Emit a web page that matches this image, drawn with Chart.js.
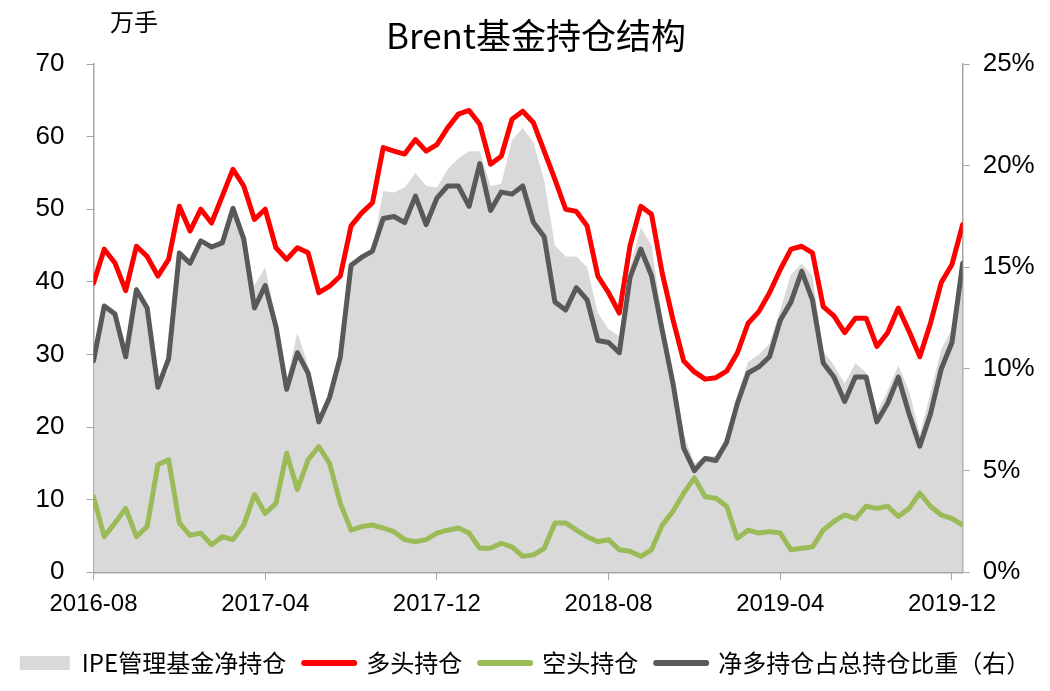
<!DOCTYPE html>
<html>
<head>
<meta charset="utf-8">
<script src="https://cdn.jsdelivr.net/npm/chart.js@4.4.1/dist/chart.umd.min.js"></script>
<style>
html,body{margin:0;padding:0;background:#fff;}
#wrap{width:1050px;height:691px;position:relative;}
</style>
</head>
<body>
<div id="wrap"><canvas id="c" width="1050" height="691"></canvas></div>
<script>
// ---- data (semi-monthly readings) ----
const dates = [
"2016-08-01","2016-08-16","2016-09-01","2016-09-16","2016-10-01","2016-10-16","2016-11-01","2016-11-16","2016-12-01","2016-12-16",
"2017-01-01","2017-01-16","2017-02-01","2017-02-16","2017-03-01","2017-03-16","2017-04-01","2017-04-16","2017-05-01","2017-05-16",
"2017-06-01","2017-06-16","2017-07-01","2017-07-16","2017-08-01","2017-08-16","2017-09-01","2017-09-16","2017-10-01","2017-10-16",
"2017-11-01","2017-11-16","2017-12-01","2017-12-16","2018-01-01","2018-01-16","2018-02-01","2018-02-16","2018-03-01","2018-03-16",
"2018-04-01","2018-04-16","2018-05-01","2018-05-16","2018-06-01","2018-06-16","2018-07-01","2018-07-16","2018-08-01","2018-08-16",
"2018-09-01","2018-09-16","2018-10-01","2018-10-16","2018-11-01","2018-11-16","2018-12-01","2018-12-16","2019-01-01","2019-01-16",
"2019-02-01","2019-02-16","2019-03-01","2019-03-16","2019-04-01","2019-04-16","2019-05-01","2019-05-16","2019-06-01","2019-06-16",
"2019-07-01","2019-07-16","2019-08-01","2019-08-16","2019-09-01","2019-09-16","2019-10-01","2019-10-16","2019-11-01","2019-11-16",
"2019-12-01","2019-12-16"];

// IPE管理基金净持仓 (万手)
const netPos = [29.5,37,36,30.5,39.5,37,25.5,28,44,42,
 45,44.5,46,50.5,46.5,39.5,42,35,26.5,33,
 28.5,21,24.5,31,42,43,44.5,52.5,52.3,53,
 55,53.2,53,55.5,57,58,58,53.2,53.5,59.5,
 61.2,59.2,54,45,43.5,43.5,42,35.7,33.5,32.5,
 42,47.5,45,35,27,19,15,16,16,18.5,
 24.5,29,30,31.5,36.2,41,42.5,40.8,30.5,28.5,
 26,28.8,27.5,22,25,28.5,25,19,24.7,30.7,
 33.5,43];

// 多头持仓 (万手)
const longPos = [39.8,44.5,42.6,38.8,44.9,43.5,40.8,43.1,50.4,47.0,
 50.0,48.1,51.8,55.5,53.2,48.6,50.0,44.7,43.1,44.7,
 44.0,38.5,39.4,40.8,47.7,49.5,50.9,58.5,58.0,57.6,
 59.6,58.0,58.9,61.2,63.1,63.6,61.7,56.2,57.3,62.4,
 63.5,61.9,58.0,54.1,50.0,49.7,47.7,40.8,38.5,35.7,
 45.0,50.4,49.3,41.2,34.8,29.1,27.6,26.6,26.8,27.7,
 30.2,34.3,35.9,38.5,41.7,44.5,44.9,44.0,36.6,35.3,
 33.0,35.0,35.0,31.1,33.0,36.4,33.2,29.7,34.3,39.9,
 42.4,47.9];

// 空头持仓 (万手)
const shortPos = [10.4,4.9,6.8,8.8,4.9,6.3,14.8,15.5,6.8,5.1,
 5.4,3.8,4.9,4.5,6.5,10.7,8.1,9.5,16.4,11.4,
 15.5,17.3,15.0,9.5,5.8,6.3,6.5,6.1,5.6,4.5,
 4.2,4.5,5.4,5.8,6.1,5.4,3.3,3.3,4.0,3.5,
 2.2,2.4,3.3,6.8,6.8,5.8,4.9,4.2,4.5,3.1,
 2.9,2.2,3.1,6.5,8.4,10.9,13.0,10.4,10.2,9.1,
 4.7,5.8,5.4,5.6,5.4,3.1,3.3,3.5,5.8,7.0,
 7.9,7.4,9.1,8.8,9.1,7.7,8.8,10.9,9.1,7.9,
 7.4,6.5];

// 净多持仓占总持仓比重 (%)
const netRatio = [10.4,13.1,12.7,10.6,13.9,13.0,9.1,10.5,15.7,15.2,
 16.3,16.0,16.2,17.9,16.4,13.0,14.1,12.1,9.0,10.8,
 9.8,7.4,8.6,10.6,15.1,15.5,15.8,17.4,17.5,17.2,
 18.5,17.1,18.4,19.0,19.0,18.0,20.1,17.8,18.7,18.6,
 19.0,17.2,16.5,13.3,12.9,14.0,13.4,11.4,11.3,10.8,
 14.5,15.9,14.6,11.9,9.3,6.1,5.0,5.6,5.5,6.4,
 8.3,9.8,10.1,10.6,12.4,13.3,14.8,13.4,10.3,9.6,
 8.4,9.6,9.6,7.4,8.3,9.6,7.8,6.2,7.8,10.0,
 11.3,15.2];

const tickLabels = ["2016-08","2017-04","2017-12","2018-08","2019-04","2019-12"];
const seriesNames = ["IPE管理基金净持仓","多头持仓","空头持仓","净多持仓占总持仓比重（右）"];
const chartTitle = "Brent基金持仓结构";
const unitLabel = "万手";

// ---- helpers ----
function monthPos(s){ // months since 2016-08-01
  const p = s.split('-').map(Number);
  const d = p[2] || 1;
  return (p[0]-2016)*12 + (p[1]-8) + (d-1)/30;
}
const xs = dates.map(monthPos);
const pts = arr => arr.map((v,i)=>({x:xs[i], y:v}));
const tickValues = tickLabels.map(monthPos);

const CJK = '"Noto Sans CJK SC", "Noto Sans", sans-serif';
const NUM = '"Liberation Sans", Arial, sans-serif';
const AX = '#a6a6a6';

const titlePlugin = {
  id:'titlePlugin',
  afterDraw(chart){
    const ctx = chart.ctx;
    ctx.save();
    ctx.fillStyle = '#000';
    ctx.textBaseline = 'middle';
    ctx.textAlign = 'center';
    ctx.font = '35px ' + CJK;
    ctx.fillText(chartTitle, 536, 36);
    ctx.textAlign = 'left';
    ctx.font = '24px ' + CJK;
    ctx.fillText(unitLabel, 110, 22);
    ctx.restore();
  }
};

new Chart(document.getElementById('c'), {
  type:'line',
  data:{
    datasets:[
      {label:seriesNames[0], data:pts(netPos), yAxisID:'y', fill:'origin', backgroundColor:'#d9d9d9', borderWidth:0, pointRadius:0, tension:0, order:10},
      {label:seriesNames[1], data:pts(longPos), yAxisID:'y', fill:false, borderColor:'#ff0000', borderWidth:5, pointRadius:0, tension:0, order:3, borderJoinStyle:'round', borderCapStyle:'round'},
      {label:seriesNames[2], data:pts(shortPos), yAxisID:'y', fill:false, borderColor:'#9bbb59', borderWidth:5, pointRadius:0, tension:0, order:2, borderJoinStyle:'round', borderCapStyle:'round'},
      {label:seriesNames[3], data:pts(netRatio), yAxisID:'y1', fill:false, borderColor:'#595959', borderWidth:5, pointRadius:0, tension:0, order:1, borderJoinStyle:'round', borderCapStyle:'round'}
    ]
  },
  options:{
    responsive:false,
    animation:false,
    events:[],
    layout:{padding:{top:64,left:0,right:0,bottom:6}},
    plugins:{
      title:{display:false},
      tooltip:{enabled:false},
      legend:{
        position:'bottom',
        labels:{
          usePointStyle:true,
          pointStyleWidth:50,
          boxHeight:14,
          padding:18,
          color:'#000',
          font:{family:CJK, size:24},
          generateLabels(chart){
            return chart.data.datasets.map((ds,i)=>({
              text:ds.label,
              datasetIndex:i,
              pointStyle: i===0 ? 'rect' : 'line',
              fillStyle: i===0 ? '#d9d9d9' : ds.borderColor,
              strokeStyle: i===0 ? '#d9d9d9' : ds.borderColor,
              lineWidth: i===0 ? 0 : 6,
              lineCap:'round',
              hidden:false,
              fontColor:'#000'
            }));
          }
        }
      }
    },
    scales:{
      x:{
        type:'linear',
        min:0,
        max:xs[xs.length-1],
        afterBuildTicks(axis){ axis.ticks = tickValues.map(v=>({value:v})); },
        afterFit(axis){ axis.height = 60.7; },
        ticks:{
          autoSkip:false, maxRotation:0, padding:10, color:'#000',
          font:{family:NUM, size:24},
          callback(v){ const i = tickValues.indexOf(v); return i>=0 ? tickLabels[i] : ''; }
        },
        grid:{drawOnChartArea:false, drawTicks:true, tickLength:8, color:AX},
        border:{display:true, color:AX, width:1.5}
      },
      y:{
        position:'left', min:0, max:70,
        afterFit(axis){ axis.width = 93.5; },
        ticks:{stepSize:10, padding:22, color:'#000', font:{family:NUM, size:26}},
        grid:{drawOnChartArea:false, drawTicks:true, tickLength:7, color:AX},
        border:{display:true, color:AX, width:1.5}
      },
      y1:{
        position:'right', min:0, max:25,
        afterFit(axis){ axis.width = 87.3; },
        ticks:{stepSize:5, padding:13, color:'#000', font:{family:NUM, size:26},
          callback(v){ return v + '%'; }},
        grid:{drawOnChartArea:false, drawTicks:true, tickLength:7, color:AX},
        border:{display:true, color:AX, width:1.5}
      }
    }
  },
  plugins:[titlePlugin]
});
</script>
</body>
</html>
